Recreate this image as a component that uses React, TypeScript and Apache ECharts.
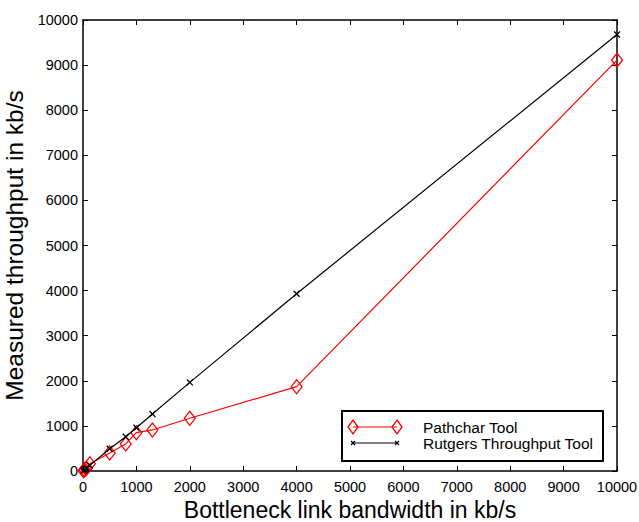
import React, { useEffect, useRef } from "react";
import * as echarts from "echarts";

const bandwidth = [10, 28, 56, 64, 128, 500, 800, 1000, 1300, 2000, 4000, 10000];
const pathcharValues = [8, 25, 50, 60, 160, 400, 600, 850, 910, 1170, 1870, 9110];
const rutgersValues = [9, 27, 54, 62, 125, 495, 760, 960, 1265, 1965, 3930, 9680];
const xTicks = [0, 1000, 2000, 3000, 4000, 5000, 6000, 7000, 8000, 9000, 10000];
const seriesNames = ["Pathchar Tool", "Rutgers Throughput Tool"];

const FONT = "Liberation Sans, Arial, sans-serif";
const CROSS = "path://M0,0L10,10M10,0L0,10";

export default function App() {
  const ref = useRef<HTMLDivElement>(null);
  useEffect(() => {
    if (!ref.current) return;
    const chart = echarts.init(ref.current, undefined, { renderer: "svg" });
    const axisCommon = {
      type: "value" as const,
      min: 0,
      max: 10000,
      interval: 1000,
      splitLine: { show: false },
      axisLine: { show: true, onZero: false, lineStyle: { color: "#000", width: 1.5 } },
      axisTick: { show: true, inside: true, length: 5, lineStyle: { color: "#000", width: 1 } },
    };
    const legX = 342, legY = 411;
    chart.setOption({
      animation: false,
      backgroundColor: "#fff",
      grid: { left: 83, top: 20, right: 22, bottom: 51, containLabel: false, outerBoundsMode: "none" },
      xAxis: [
        {
          ...axisCommon,
          position: "bottom",
          name: "Bottleneck link bandwidth in kb/s",
          nameLocation: "middle",
          nameGap: 25,
          nameTextStyle: { fontFamily: FONT, fontSize: 23, color: "#000" },
          axisLabel: {
            fontFamily: FONT, fontSize: 14.5, color: "#000", margin: 8,
            formatter: (v: number) => (xTicks.includes(v) ? String(v) : ""),
          },
        },
        { ...axisCommon, position: "top", axisLabel: { show: false } },
      ],
      yAxis: [
        {
          ...axisCommon,
          position: "left",
          name: "Measured throughput in kb/s",
          nameLocation: "middle",
          nameGap: 44,
          nameTextStyle: { fontFamily: FONT, fontSize: 24.5, color: "#000" },
          axisLabel: {
            fontFamily: FONT, fontSize: 14.5, color: "#000", margin: 5,
            formatter: (v: number) => String(v),
          },
        },
        { ...axisCommon, position: "right", axisLabel: { show: false } },
      ],
      series: [
        {
          name: seriesNames[0],
          type: "line",
          data: bandwidth.map((b, i) => [b, pathcharValues[i]]),
          symbol: "diamond",
          symbolSize: [11, 14],
          lineStyle: { color: "#ff0000", width: 1.2 },
          itemStyle: { color: "rgba(0,0,0,0)", borderColor: "#ff0000", borderWidth: 1.3 },
          z: 3,
        },
        {
          name: seriesNames[1],
          type: "line",
          data: bandwidth.map((b, i) => [b, rutgersValues[i]]),
          symbol: CROSS,
          symbolSize: 6,
          lineStyle: { color: "#000", width: 1.2 },
          itemStyle: { color: "rgba(0,0,0,0)", borderColor: "#000", borderWidth: 1.3 },
          z: 4,
        },
      ],
      graphic: [
        {
          type: "rect",
          shape: { x: legX, y: legY, width: 261, height: 50 },
          style: { fill: "#fff", stroke: "#000", lineWidth: 2 },
          z: 10,
        },
        { type: "line", shape: { x1: 353, y1: 427, x2: 397, y2: 427 }, style: { stroke: "#ff0000", lineWidth: 1.2 }, z: 11 },
        { type: "polygon", shape: { points: [[353, 420], [358, 427], [353, 434], [348, 427]] }, style: { fill: "none", stroke: "#ff0000", lineWidth: 1.3 }, z: 11 },
        { type: "polygon", shape: { points: [[397, 420], [402, 427], [397, 434], [392, 427]] }, style: { fill: "none", stroke: "#ff0000", lineWidth: 1.3 }, z: 11 },
        { type: "line", shape: { x1: 353, y1: 443, x2: 397, y2: 443 }, style: { stroke: "#000", lineWidth: 1.2 }, z: 11 },
        { type: "line", shape: { x1: 351, y1: 441, x2: 355, y2: 445 }, style: { stroke: "#000", lineWidth: 1.3 }, z: 11 },
        { type: "line", shape: { x1: 351, y1: 445, x2: 355, y2: 441 }, style: { stroke: "#000", lineWidth: 1.3 }, z: 11 },
        { type: "line", shape: { x1: 395, y1: 441, x2: 399, y2: 445 }, style: { stroke: "#000", lineWidth: 1.3 }, z: 11 },
        { type: "line", shape: { x1: 395, y1: 445, x2: 399, y2: 441 }, style: { stroke: "#000", lineWidth: 1.3 }, z: 11 },
        {
          type: "text", x: 423, y: 427, z: 11,
          style: { text: seriesNames[0], font: `15.5px ${FONT}`, fill: "#000", verticalAlign: "middle" },
        },
        {
          type: "text", x: 423, y: 443, z: 11,
          style: { text: seriesNames[1], font: `15.5px ${FONT}`, fill: "#000", verticalAlign: "middle" },
        },
      ],
    });
    return () => chart.dispose();
  }, []);
  return <div ref={ref} style={{ width: 639, height: 522, position: "absolute", left: 0, top: 0 }} />;
}
